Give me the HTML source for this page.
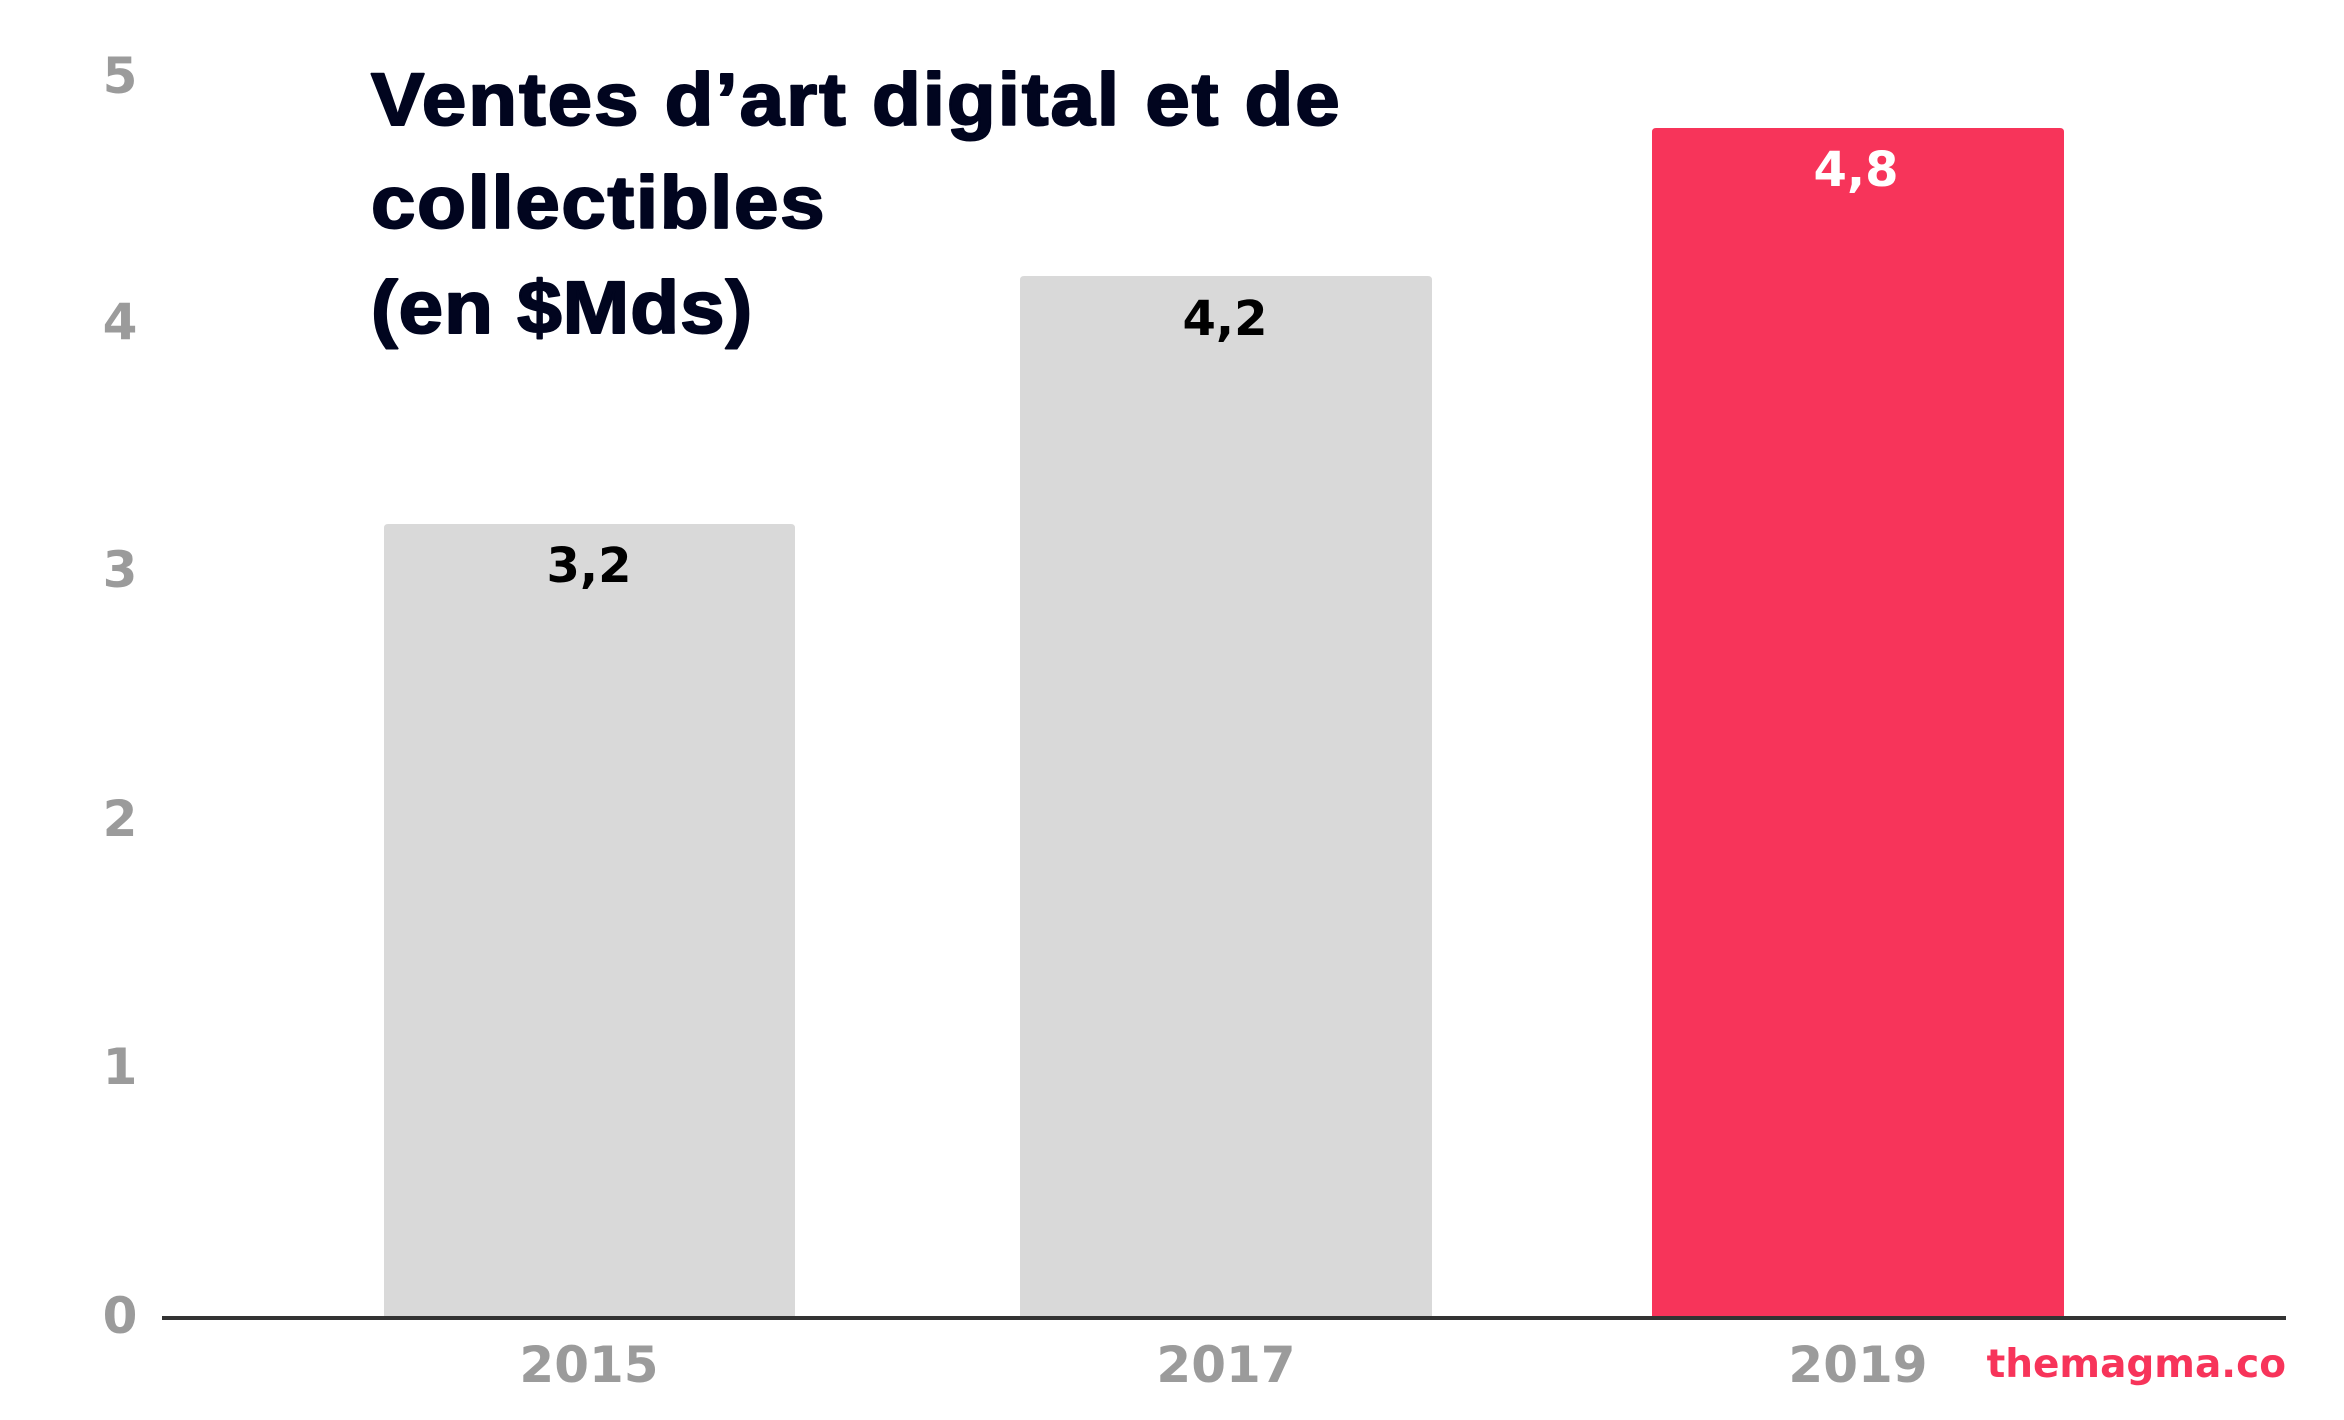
<!DOCTYPE html>
<html>
<head>
<meta charset="utf-8">
<style>
  html, body { margin: 0; padding: 0; background: #ffffff; }
  body { width: 2344px; height: 1420px; overflow: hidden; }
  svg { display: block; }
  .tick { font-family: "DejaVu Sans", "Liberation Sans", sans-serif; font-weight: bold; font-size: 50px; fill: #9b9b9b; }
  .val { font-family: "DejaVu Sans", "Liberation Sans", sans-serif; font-weight: bold; font-size: 48px; }
  .title { font-family: "Liberation Sans", "DejaVu Sans", sans-serif; font-weight: bold; font-size: 74px; fill: #01051f; stroke: #01051f; stroke-width: 2px; stroke-linejoin: round; }
  .brand { font-family: "DejaVu Sans", "Liberation Sans", sans-serif; font-weight: bold; font-size: 39px; fill: #f7345a; }
</style>
</head>
<body>
<svg width="2344" height="1420" viewBox="0 0 2344 1420" xmlns="http://www.w3.org/2000/svg">
  <rect x="0" y="0" width="2344" height="1420" fill="#ffffff"/>

  <!-- Bars -->
  <path d="M384,1318 L384,528 Q384,524 388,524 L791,524 Q795,524 795,528 L795,1318 Z" fill="#d9d9d9"/>
  <path d="M1020,1318 L1020,280 Q1020,276 1024,276 L1428,276 Q1432,276 1432,280 L1432,1318 Z" fill="#d9d9d9"/>
  <path d="M1652,1318 L1652,132 Q1652,128 1656,128 L2060,128 Q2064,128 2064,132 L2064,1318 Z" fill="#f7345a"/>

  <!-- Axis line -->
  <rect x="162" y="1316" width="2124" height="4" fill="#333333"/>

  <!-- Y tick labels -->
  <text class="tick" x="120" y="1333" text-anchor="middle">0</text>
  <text class="tick" x="120" y="1084" text-anchor="middle">1</text>
  <text class="tick" x="120" y="836" text-anchor="middle">2</text>
  <text class="tick" x="120" y="587" text-anchor="middle">3</text>
  <text class="tick" x="120" y="339" text-anchor="middle">4</text>
  <text class="tick" x="120" y="93" text-anchor="middle">5</text>

  <!-- X labels -->
  <text class="tick" x="589" y="1382" text-anchor="middle">2015</text>
  <text class="tick" x="1226" y="1382" text-anchor="middle">2017</text>
  <text class="tick" x="1858" y="1382" text-anchor="middle">2019</text>

  <!-- Value labels -->
  <text class="val" x="589" y="582" text-anchor="middle" fill="#000000">3,2</text>
  <text class="val" x="1225" y="335" text-anchor="middle" fill="#000000">4,2</text>
  <text class="val" x="1856" y="186" text-anchor="middle" fill="#ffffff">4,8</text>

  <!-- Title -->
  <g transform="translate(371,0) scale(1.08,1)">
    <text class="title" x="0" y="125" textLength="897" lengthAdjust="spacing">Ventes d’art digital et de</text>
    <text class="title" x="0" y="228" textLength="420" lengthAdjust="spacing">collectibles</text>
    <text class="title" x="0" y="333" textLength="353" lengthAdjust="spacing">(en $Mds)</text>
  </g>

  <!-- Brand -->
  <text class="brand" x="2286" y="1377" text-anchor="end">themagma.co</text>
</svg>
</body>
</html>
